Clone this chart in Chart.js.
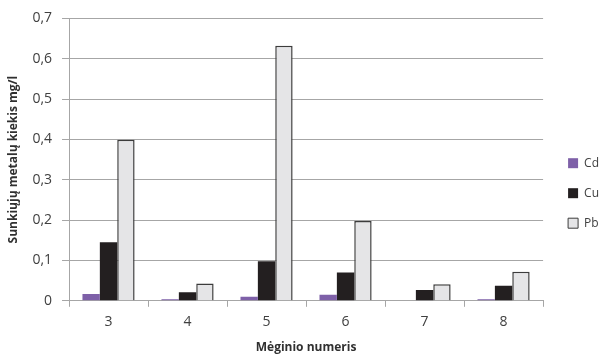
<!DOCTYPE html>
<html>
<head>
<meta charset="utf-8">
<script src="https://cdn.jsdelivr.net/npm/chart.js@4.4.0/dist/chart.umd.min.js"></script>
<style>
  html, body { margin: 0; padding: 0; background: #fff; }
  #wrap { width: 602px; height: 358px; }
</style>
</head>
<body>
<div id="wrap"><canvas id="myChart" width="602" height="358"></canvas></div>
<script>
// sample numbers on the x axis
var xlabel = ['3', '4', '5', '6', '7', '8'];
// metal content, mg/l
var cd = [0.017, 0.004, 0.010, 0.015, 0, 0.004];
var cu = [0.145, 0.021, 0.098, 0.070, 0.027, 0.037];
var pb = [0.399, 0.043, 0.632, 0.198, 0.041, 0.072];
var yticks = [0, 0.1, 0.2, 0.3, 0.4, 0.5, 0.6, 0.7];

var fontFam = "'Open Sans', 'DejaVu Sans', sans-serif";
var textCol = '#404040';
var titleCol = '#303030';
var gridCol = '#a6a6a6';

var ctx = document.getElementById('myChart').getContext('2d');

// push the legend a bit further right of the plot
var legendShift = {
    id: 'legendShift',
    afterLayout: function (c) {
        c.legend.left += 7;
        c.legend.right += 7;
    }
};

var chart = new Chart(ctx, {
    type: 'bar',
    data: {
        labels: xlabel,
        datasets: [{
            label: 'Cd',
            backgroundColor: '#7e60a8',
            borderColor: '#7e60a8',
            borderWidth: 0,
            data: cd
        }, {
            label: 'Cu',
            backgroundColor: '#231f20',
            borderColor: '#231f20',
            borderWidth: 0,
            data: cu
        }, {
            label: 'Pb',
            backgroundColor: '#e5e5e7',
            borderColor: '#3c3c3c',
            borderWidth: 1.5,
            data: pb
        }]
    },
    plugins: [legendShift],
    options: {
        responsive: false,
        animation: false,
        layout: { padding: { left: 6, top: 17, right: 0, bottom: 3 } },
        datasets: {
            bar: { categoryPercentage: 0.66, barPercentage: 1.0 }
        },
        plugins: {
            tooltip: { enabled: false },
            legend: {
                position: 'right',
                align: 'center',
                maxWidth: 61,
                title: { display: true, text: ' ', padding: 0, font: { size: 12 } },
                labels: {
                    boxWidth: 10,
                    boxHeight: 10,
                    padding: 18,
                    color: textCol,
                    font: { family: fontFam, size: 12 },
                    generateLabels: function (c) {
                        return c.data.datasets.map(function (ds, i) {
                            return {
                                text: ds.label,
                                fillStyle: ds.backgroundColor,
                                strokeStyle: i === 2 ? '#3c3c3c' : ds.backgroundColor,
                                lineWidth: i === 2 ? 1 : 0,
                                fontColor: textCol,
                                datasetIndex: i
                            };
                        });
                    }
                }
            }
        },
        scales: {
            x: {
                grid: {
                    display: true,
                    drawOnChartArea: false,
                    drawTicks: true,
                    tickLength: 6,
                    color: gridCol
                },
                border: { display: true, color: gridCol },
                ticks: {
                    color: textCol,
                    font: { family: fontFam, size: 14 },
                    padding: 7
                },
                title: {
                    display: true,
                    text: 'Mėginio numeris',
                    color: titleCol,
                    font: { family: fontFam, size: 12, weight: 'bold' },
                    padding: { top: 3, bottom: 0 }
                }
            },
            y: {
                min: 0,
                max: 0.7,
                afterBuildTicks: function (axis) {
                    axis.ticks = yticks.map(function (v) { return { value: v }; });
                },
                grid: {
                    color: gridCol,
                    tickLength: 7
                },
                border: { display: true, color: gridCol },
                ticks: {
                    color: textCol,
                    font: { family: fontFam, size: 14 },
                    padding: 10,
                    callback: function (v) {
                        return v === 0 ? '0' : v.toFixed(1).replace('.', ',');
                    }
                },
                title: {
                    display: true,
                    text: 'Sunkiųjų metalų kiekis mg/l',
                    color: titleCol,
                    font: { family: fontFam, size: 12, weight: 'bold' },
                    padding: { top: 0, bottom: 2 }
                }
            }
        }
    }
});
</script>
</body>
</html>
